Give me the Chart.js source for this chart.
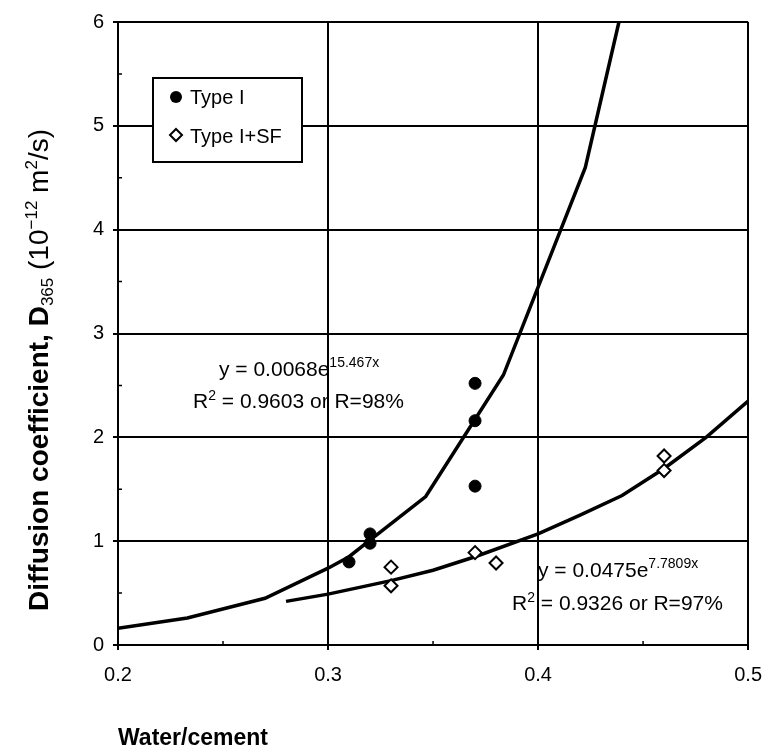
<!DOCTYPE html>
<html>
<head>
<meta charset="utf-8">
<script src="https://cdn.jsdelivr.net/npm/chart.js@4"></script>
<style>
  body { margin: 0; background: #fff; }
  canvas { display: block; }
</style>
</head>
<body>
<canvas id="chart" width="775" height="756"></canvas>
<script>
// measured points
const typeIX = [0.31, 0.32, 0.32, 0.37, 0.37, 0.37];
const typeIY = [0.80, 1.07, 0.98, 2.52, 2.16, 1.53];
const typeSFX = [0.33, 0.33, 0.37, 0.38, 0.46, 0.46];
const typeSFY = [0.75, 0.57, 0.89, 0.79, 1.82, 1.68];

// trend lines
const fitIX = [0.2, 0.233, 0.27, 0.30, 0.31, 0.32, 0.3465, 0.3835, 0.4225, 0.4385];
const fitIY = [0.16, 0.26, 0.45, 0.74, 0.85, 1.01, 1.43, 2.60, 4.60, 6.00];
const fitSFX = [0.28, 0.30, 0.33, 0.35, 0.37, 0.40, 0.42, 0.44, 0.46, 0.48, 0.50];
const fitSFY = [0.42, 0.49, 0.62, 0.72, 0.85, 1.07, 1.25, 1.44, 1.70, 2.00, 2.35];

const xMinor = [0.25, 0.35, 0.45];
const yMinor = [0.5, 1.5, 2.5, 3.5, 4.5, 5.5];

const FONT = '"Liberation Sans", Arial, sans-serif';

function pts(xs, ys) {
    return xs.map((x, i) => ({ x: x, y: ys[i] }));
}

// draw a row of text pieces (for super/subscripts)
function drawRuns(ctx, runs, x, y) {
    let cx = x;
    runs.forEach(r => {
        ctx.font = r.font;
        ctx.fillText(r.t, cx, y + (r.dy || 0));
        cx += ctx.measureText(r.t).width;
    });
    return cx;
}
function runsWidth(ctx, runs) {
    let w = 0;
    runs.forEach(r => { ctx.font = r.font; w += ctx.measureText(r.t).width; });
    return w;
}

const extras = {
    id: 'extras',
    afterDatasetsDraw(chart) {
        const ctx = chart.ctx;
        const xs = chart.scales.x, ys = chart.scales.y;
        const area = chart.chartArea;
        ctx.save();
        ctx.strokeStyle = '#000';
        ctx.fillStyle = '#000';
        ctx.lineWidth = 1.5;

        // minor ticks inside the axes
        ctx.beginPath();
        xMinor.forEach(v => {
            const px = xs.getPixelForValue(v);
            ctx.moveTo(px, area.bottom);
            ctx.lineTo(px, area.bottom - 4);
        });
        yMinor.forEach(v => {
            const py = ys.getPixelForValue(v);
            ctx.moveTo(area.left, py);
            ctx.lineTo(area.left + 4, py);
        });
        ctx.stroke();

        // legend box
        ctx.fillStyle = '#fff';
        ctx.fillRect(153, 78, 149, 84);
        ctx.lineWidth = 2;
        ctx.strokeRect(153, 78, 149, 84);
        ctx.fillStyle = '#000';
        ctx.beginPath();
        ctx.arc(176, 97, 6, 0, Math.PI * 2);
        ctx.fill();
        ctx.beginPath();
        ctx.moveTo(176, 129); ctx.lineTo(182, 135); ctx.lineTo(176, 141); ctx.lineTo(170, 135);
        ctx.closePath();
        ctx.fillStyle = '#fff';
        ctx.fill();
        ctx.stroke();
        ctx.fillStyle = '#000';
        ctx.textBaseline = 'alphabetic';
        ctx.textAlign = 'left';
        ctx.font = '20px ' + FONT;
        ctx.fillText('Type I', 190, 104);
        ctx.fillText('Type I+SF', 190, 143);

        // equations
        const big = '21px ' + FONT, sup = '14px ' + FONT;
        drawRuns(ctx, [{ t: 'y = 0.0068e', font: big }, { t: '15.467x', font: sup, dy: -9 }], 219, 376);
        drawRuns(ctx, [{ t: 'R', font: big }, { t: '2', font: sup, dy: -8 }, { t: ' = 0.9603 or R=98%', font: big }], 193, 408);
        drawRuns(ctx, [{ t: 'y = 0.0475e', font: big }, { t: '7.7809x', font: sup, dy: -9 }], 538, 577);
        drawRuns(ctx, [{ t: 'R', font: big }, { t: '2', font: sup, dy: -8 }, { t: ' = 0.9326 or R=97%', font: big }], 512, 610);

        // axis titles
        ctx.font = 'bold 23px ' + FONT;
        ctx.fillText('Water/cement', 118, 745);

        const bold = 'bold 28px ' + FONT, reg = '28px ' + FONT, small = '17px ' + FONT;
        const yRuns = [
            { t: 'Diffusion coefficient, D', font: bold },
            { t: '365', font: small, dy: 5 },
            { t: ' (10', font: reg },
            { t: '\u221212', font: small, dy: -11 },
            { t: ' m', font: reg },
            { t: '2', font: small, dy: -11 },
            { t: '/s)', font: reg }
        ];
        const w = runsWidth(ctx, yRuns);
        ctx.translate(48, 370);
        ctx.rotate(-Math.PI / 2);
        drawRuns(ctx, yRuns, -w / 2, 0);
        ctx.restore();
    }
};

new Chart(document.getElementById('chart'), {
    type: 'scatter',
    data: {
        datasets: [
            {
                label: 'Type I',
                data: pts(typeIX, typeIY),
                pointStyle: 'circle',
                pointRadius: 6,
                backgroundColor: '#000',
                borderColor: '#000',
                borderWidth: 1
            },
            {
                label: 'Type I+SF',
                data: pts(typeSFX, typeSFY),
                pointStyle: 'rectRot',
                pointRadius: 6.5,
                backgroundColor: '#fff',
                borderColor: '#000',
                borderWidth: 2
            },
            {
                label: 'fit I',
                data: pts(fitIX, fitIY),
                showLine: true,
                pointRadius: 0,
                borderColor: '#000',
                borderWidth: 3.5,
                tension: 0
            },
            {
                label: 'fit I+SF',
                data: pts(fitSFX, fitSFY),
                showLine: true,
                pointRadius: 0,
                borderColor: '#000',
                borderWidth: 3.5,
                tension: 0
            }
        ]
    },
    options: {
        responsive: false,
        animation: false,
        layout: { padding: { left: 0, right: 17, top: 22, bottom: 0 } },
        plugins: { legend: { display: false }, tooltip: { enabled: false } },
        scales: {
            x: {
                type: 'linear',
                min: 0.2,
                max: 0.5,
                afterFit: s => { s.height = 111; },
                ticks: {
                    stepSize: 0.1,
                    callback: v => v.toFixed(1),
                    color: '#000',
                    padding: 13,
                    font: { family: FONT, size: 20 }
                },
                grid: { color: '#000', lineWidth: 2, tickLength: 5 },
                border: { color: '#000', width: 2 }
            },
            y: {
                min: 0,
                max: 6,
                afterFit: s => { s.width = 118; },
                ticks: {
                    stepSize: 1,
                    color: '#000',
                    padding: 9,
                    font: { family: FONT, size: 20 }
                },
                grid: { color: '#000', lineWidth: 2, tickLength: 5 },
                border: { color: '#000', width: 2 }
            }
        }
    },
    plugins: [extras]
});
</script>
</body>
</html>
